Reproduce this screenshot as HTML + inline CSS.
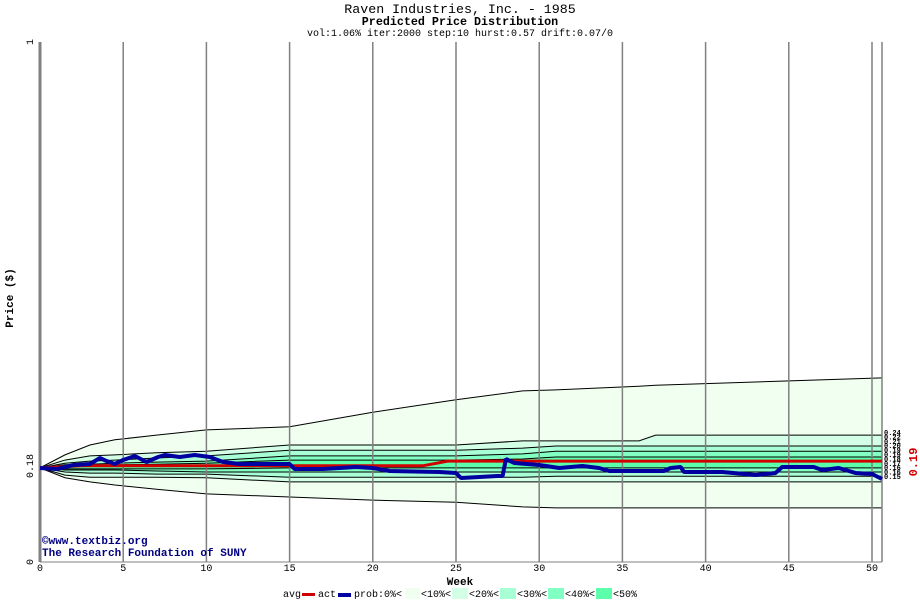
<!DOCTYPE html>
<html><head><meta charset="utf-8"><style>
body{margin:0;background:#fff;width:920px;height:600px;overflow:hidden;font-family:"Liberation Mono","DejaVu Sans Mono",monospace}
svg{display:block}
</style></head><body>
<svg id="c" width="920" height="600" xmlns="http://www.w3.org/2000/svg"></svg>
<script>
const weeks=[0,1.5,3,4.5,7,10,15,20,25,29,31,36,37,50.6];
const band0Top=[.181,.206,.225,.235,.244,.254,.260,.288,.312,.329,.331,.338,.340,.354];
const band0Bot=[.181,.162,.154,.148,.140,.131,.125,.119,.115,.106,.104,.104,.104,.104];
const band1Top=[.181,.196,.204,.206,.210,.213,.225,.225,.225,.233,.233,.233,.244,.244];
const band1Bot=[.181,.167,.163,.163,.163,.162,.154,.154,.154,.154,.154,.154,.154,.154];
const band2Top=[.181,.190,.194,.196,.200,.204,.215,.215,.215,.219,.223,.223,.223,.223];
const band2Bot=[.181,.173,.171,.171,.169,.169,.163,.163,.163,.163,.165,.165,.165,.165];
const band3Top=[.181,.187,.188,.190,.192,.194,.204,.204,.204,.208,.213,.213,.213,.213];
const band3Bot=[.181,.177,.177,.177,.175,.173,.173,.173,.173,.173,.173,.173,.173,.173];
const band4Top=[.181,.185,.187,.187,.188,.190,.196,.196,.196,.198,.202,.202,.202,.202];
const band4Bot=[.181,.179,.179,.179,.179,.179,.181,.181,.181,.181,.181,.181,.181,.181];
const avgWeeks=[0,2.5,23,24.5,50.6];
const avgVals=[.181,.185,.185,.194,.194];
const actWeeks=[0,1,2,3,3.6,4,4.5,5,5.7,6.4,7.1,7.5,8.4,9.3,10.2,11,12,15,15.3,17,19,20,21,24,25,25.3,27.5,27.8,28,28.5,30,31.2,32.6,33.6,34.2,37.5,37.9,38.5,38.7,41,43,44.2,44.6,46.5,47,48,49,50,50.6];
const actVals=[.1808,.1788,.1865,.1885,.2,.1942,.1885,.1962,.2038,.1923,.2019,.2058,.2019,.2058,.2019,.1923,.1885,.1885,.1788,.1788,.1827,.1808,.175,.1731,.1712,.1615,.1654,.1654,.1981,.1904,.1865,.1808,.1846,.1808,.175,.175,.1808,.1827,.1731,.1731,.1673,.1712,.1827,.1827,.1769,.1808,.1712,.1692,.1596];
const xTicks=[0,5,10,15,20,25,30,35,40,45,50];
const endLabels=["0.24","0.22","0.21","0.20","0.19","0.19","0.18","0.17","0.16","0.16","0.15"];
const bandColors=["#f0fff0","#d2ffe6","#a8ffd6","#82ffc2","#5cffaa"];
const L=40,R=882,T=42,B=562;
const xs=w=>L+w*(872-L)/50;
const ys=v=>B-v*(B-T);
const svg=document.getElementById('c');const NS="http://www.w3.org/2000/svg";
function mk(t,a,p){const e=document.createElementNS(NS,t);for(const k in a)e.setAttribute(k,a[k]);(p||svg).appendChild(e);return e;}
function txt(s,a){const e=mk('text',a);e.textContent=s;return e;}
const tops=[band0Top,band1Top,band2Top,band3Top,band4Top],bots=[band0Bot,band1Bot,band2Bot,band3Bot,band4Bot];
for(let b=0;b<5;b++){
 let d='';weeks.forEach((w,i)=>d+=(i?'L':'M')+xs(w)+','+ys(tops[b][i]));
 for(let i=weeks.length-1;i>=0;i--)d+='L'+xs(weeks[i])+','+ys(bots[b][i]);
 const p=mk('path',{d:d+'Z',fill:bandColors[b],stroke:'none'});
 
 
}
for(let b=0;b<5;b++){[tops[b],bots[b]].forEach((arr,j)=>{
 const pts=weeks.map((w,i)=>xs(w)+','+ys(arr[i])).join(' ');
 const p=mk('polyline',{points:pts,fill:'none',stroke:'#000','stroke-width':1});
 
 
});}
xTicks.forEach(t=>{if(t>0){const g=mk('line',{x1:xs(t),x2:xs(t),y1:T,y2:B,stroke:'#808080','stroke-width':1.5});
 
 }
 const tl=txt(String(t),{x:xs(t),y:571,'font-size':10,'text-anchor':'middle',fill:'#000'});
 
 
});
mk('line',{x1:R,x2:R,y1:T,y2:B,stroke:'#808080','stroke-width':1.5,});
mk('line',{x1:L,x2:L,y1:T,y2:B,stroke:'#808080','stroke-width':3,});
mk('line',{x1:L,x2:R,y1:B,y2:B,stroke:'#808080','stroke-width':1,});
const ap=mk('polyline',{points:avgWeeks.map((w,i)=>xs(w)+','+ys(avgVals[i])).join(' '),fill:'none',stroke:'#d00000','stroke-width':3});


const bp=mk('polyline',{points:actWeeks.map((w,i)=>xs(w)+','+ys(actVals[i])).join(' '),fill:'none',stroke:'#0000a0','stroke-width':4,'stroke-linejoin':'bevel'});


endLabels.forEach((s,i)=>{const t=txt(s,{x:884,y:435+i*4.4,'font-size':7,'font-weight':'bold',fill:'#000'});
 
 });
</script>
<svg width="920" height="600" style="position:absolute;left:0;top:0" xmlns="http://www.w3.org/2000/svg" font-family="Liberation Mono, DejaVu Sans Mono, monospace">
<text x="460" y="13" font-size="13.3" text-anchor="middle">Raven Industries, Inc. - 1985</text>
<text x="460" y="25" font-size="11.7" font-weight="bold" text-anchor="middle">Predicted Price Distribution</text>
<text x="460" y="36" font-size="10" text-anchor="middle">vol:1.06% iter:2000 step:10 hurst:0.57 drift:0.07/0</text>
<text transform="translate(33,42) rotate(-90)" font-size="10" text-anchor="middle">1</text>
<text transform="translate(33,466) rotate(-90)" font-size="10" text-anchor="middle">0.18</text>
<text transform="translate(33,562) rotate(-90)" font-size="10" text-anchor="middle">0</text>
<text transform="translate(13,298) rotate(-90)" font-size="11" font-weight="bold" text-anchor="middle">Price ($)</text>
<text transform="translate(917,462) rotate(-90)" font-size="12" font-weight="bold" fill="#d00000" text-anchor="middle">0.19</text>
<text x="460" y="585" font-size="11" font-weight="bold" text-anchor="middle">Week</text>
<text x="42" y="544" font-size="11" font-weight="bold" fill="#000080">©www.textbiz.org</text>
<text x="42" y="556" font-size="11" font-weight="bold" fill="#000080">The Research Foundation of SUNY</text>
<g font-size="10">
<text x="283" y="597">avg</text><rect x="302" y="593" width="13" height="3" fill="#d00000"/>
<text x="318" y="597">act</text><rect x="338" y="593" width="13" height="4" fill="#0000a0"/>
<text x="354" y="597">prob:0%&lt;</text><rect x="405" y="588" width="15" height="11" fill="#f0fff0"/>
<text x="421" y="597">&lt;10%&lt;</text><rect x="452" y="588" width="16" height="11" fill="#d2ffe6"/>
<text x="469" y="597">&lt;20%&lt;</text><rect x="500" y="588" width="16" height="11" fill="#a8ffd6"/>
<text x="517" y="597">&lt;30%&lt;</text><rect x="548" y="588" width="16" height="11" fill="#82ffc2"/>
<text x="565" y="597">&lt;40%&lt;</text><rect x="596" y="588" width="16" height="11" fill="#5cffaa"/>
<text x="613" y="597">&lt;50%</text>
</g>
</svg>
</body></html>
